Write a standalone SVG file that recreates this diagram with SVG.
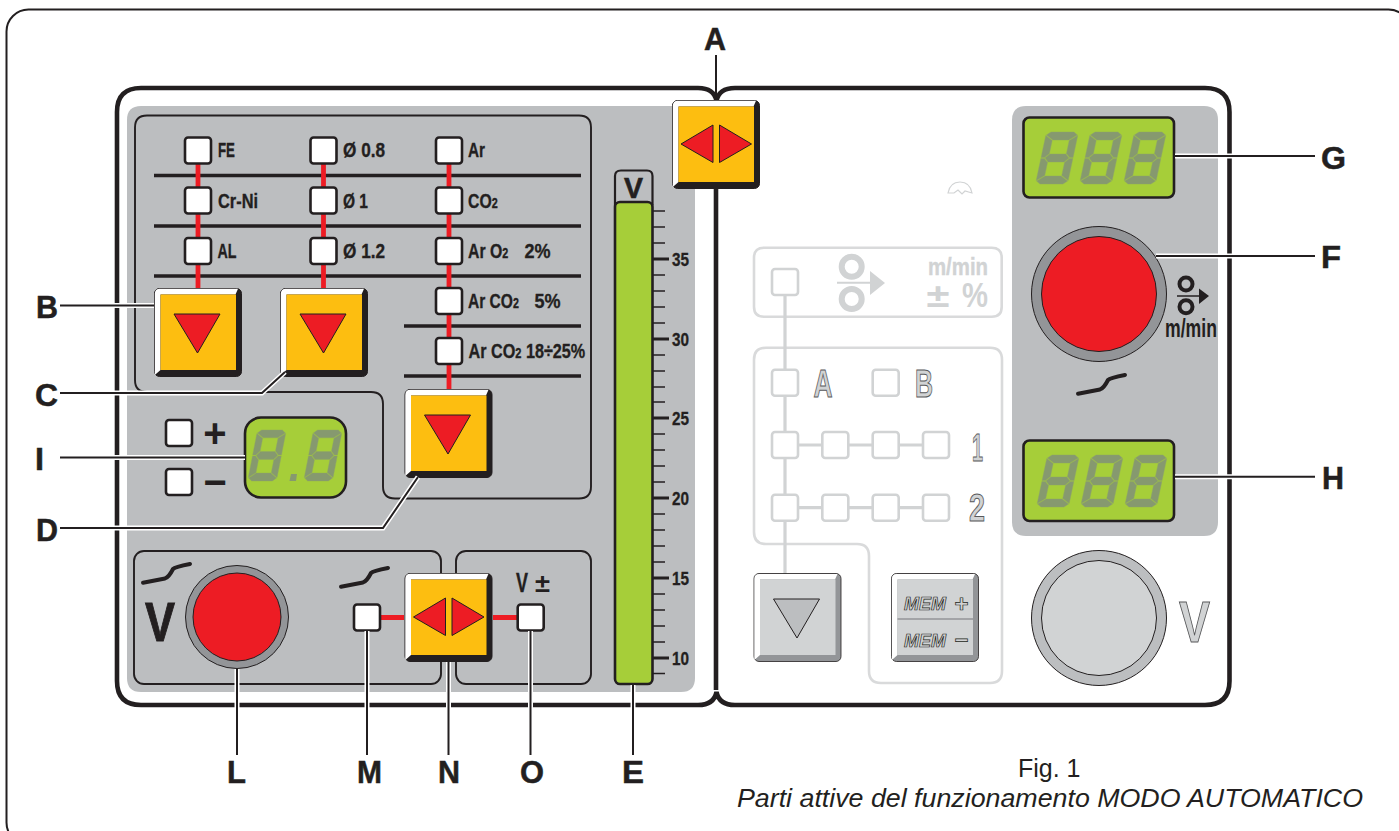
<svg xmlns="http://www.w3.org/2000/svg" xmlns:xlink="http://www.w3.org/1999/xlink" width="1399" height="831" viewBox="0 0 1399 831">
<style>
text{font-family:"Liberation Sans",Arial,sans-serif;font-weight:700;fill:#231F20}
.lab{font-size:32px;stroke:#231F20;stroke-width:.5}
.t{font-size:20.500px;stroke:#231F20;stroke-width:.35}
.n{font-size:18px;stroke:#231F20;stroke-width:.3}
.led{fill:#fff;stroke:#231F20;stroke-width:2.6}
.gled{fill:#fff;stroke:#D1D3D4;stroke-width:2.6}
.red{stroke:#ED1C24;stroke-width:4.8;fill:none}
.rule{stroke:#231F20;stroke-width:3.4;fill:none}
.box{fill:none;stroke:#231F20;stroke-width:1.9}
.gbox{fill:none;stroke:#D9DADB;stroke-width:2.6}
.gl{stroke:#D1D3D4;stroke-width:3.2;fill:none}
.lcd{fill:#A6CE39;stroke:#231F20;stroke-width:2.6}
.seg polygon{fill:#86996F;stroke:#8FA667;stroke-width:.4}
.h{fill:none;stroke:#fff;stroke-width:5}
.l{fill:none;stroke:#231F20;stroke-width:2}
.tri{fill:#ED1C24;stroke:#231F20;stroke-width:1}
.ramp{fill:none;stroke:#231F20;stroke-width:4;stroke-linecap:round;stroke-linejoin:round}
.tick{stroke:#231F20;stroke-width:1.6}
.maj{stroke:#231F20;stroke-width:3}
.cap{font-weight:400}
</style>
<defs>
<g id="led"><rect x="-13" y="-13" width="26" height="26" rx="3" class="led"/></g>
<g id="gled"><rect x="-13" y="-13" width="26" height="26" rx="3" class="gled"/></g>
<g id="btn">
<rect x=".5" y=".5" width="87" height="88" rx="5" fill="#231F20" stroke="#231F20"/>
<path d="M.8 6Q.8 .8 6 .8L84 .8L81.5 6.5L6.5 6.5L6.5 82L.8 87Z" fill="#fff"/>
<rect x="6.5" y="6.5" width="75.5" height="75.5" fill="#FDBE10"/>
</g>
<g id="gbtn">
<rect x=".5" y=".5" width="87" height="88" rx="5" fill="#939598" stroke="#231F20" stroke-width=".8"/>
<path d="M.9 6Q.9 .9 6 .9L84 .9L81.5 6.5L6.5 6.5L6.5 82L.9 87Z" fill="#fff"/>
<rect x="6.5" y="6.5" width="75.5" height="75.5" fill="#D1D3D4"/>
</g>
<g id="tdown"><polygon points="20,26 66,26 43.5,65" class="tri"/></g>
<g id="tboth"><polygon points="9,44 41,25 41,62.5" class="tri"/><polygon points="47.5,25 47.5,62.5 79.5,44" class="tri"/></g>
<g id="digit" class="seg">
<polygon points="4,0 27,0 31,3 23.500,8 7.500,8 0,3"/>
<polygon points="-.5,3.500 7,8.500 7,21.500 3,25.500 -.5,25.500"/>
<polygon points="31.500,3.500 24,8.500 24,21.500 28,25.500 31.500,25.500"/>
<polygon points="3.500,26 7.500,22 23.500,22 27.500,26 23.500,30 7.500,30"/>
<polygon points="-.5,26.500 3,26.500 7,30.500 7,43.500 -.5,48.500"/>
<polygon points="31.500,26.500 28,26.500 24,30.500 24,43.500 31.500,48.500"/>
<polygon points="0,49 7.500,44 23.500,44 31,49 27,52 4,52"/>
</g>
<g id="d3"><use xlink:href="#digit" transform="skewX(-12)"/><use xlink:href="#digit" transform="translate(44 0) skewX(-12)"/><use xlink:href="#digit" transform="translate(88 0) skewX(-12)"/></g>
<path id="rampg" d="M143 582.7L165 578.5Q169 577 173 569Q175 567 190 564" class="ramp"/>
</defs>

<rect id="frame" x="6.5" y="9.5" width="1404" height="835" rx="22" fill="#fff" stroke="#231F20" stroke-width="2"/>

<g id="panels">
<path id="panel-left-bg" d="M141 106H695V678Q695 692 681 692H141Q127 692 127 678V120Q127 106 141 106Z" fill="#BCBEC0"/>
<path id="panel-right-bg" d="M1026 106H1204Q1218 106 1218 120V522Q1218 536 1204 536H1026Q1012 536 1012 522V120Q1012 106 1026 106Z" fill="#BCBEC0"/>
<path id="panel-outline" d="M716 101V690M698 705H141Q117 705 117 681V112Q117 88 141 88H698Q714 88 716.500 101Q719 88 735 88H1205Q1229.500 88 1229.500 112V681Q1229.500 705 1205 705H735Q719 705 716.500 692Q714 705 698 705Z" fill="none" stroke="#231F20" stroke-width="4.600"/>
<path class="box" d="M147 115.500H579Q591 115.500 591 127.500V486.500Q591 498.500 579 498.500H395Q383 498.500 383 486.500V404Q383 392 371 392H147Q135 392 135 380V127.500Q135 115.500 147 115.500Z"/>
<rect class="box" x="134" y="551" width="307" height="133" rx="10"/>
<rect class="box" x="456" y="551" width="135" height="133" rx="10"/>
</g>

<g id="group-rules">
<path class="rule" d="M154 175.500H581M154 226H581M154 276H581M404 326H581M404 376H581"/>
<path class="red" d="M198 150V290M323.500 150V290M449 150V392M367 617.500H404M493 617.500H530"/>
</g>

<g id="material">
<use xlink:href="#led" x="198" y="150.500"/><text class="t" x="218" y="157" textLength="17" lengthAdjust="spacingAndGlyphs">FE</text>
<use xlink:href="#led" x="198" y="200.500"/><text class="t" x="218" y="207.500" textLength="40" lengthAdjust="spacingAndGlyphs">Cr-Ni</text>
<use xlink:href="#led" x="198" y="251"/><text class="t" x="217.500" y="257.500" textLength="19" lengthAdjust="spacingAndGlyphs">AL</text>
</g>
<g id="wire">
<use xlink:href="#led" x="323.500" y="150.500"/><text class="t" x="343" y="157" textLength="42" lengthAdjust="spacingAndGlyphs">Ø 0.8</text>
<use xlink:href="#led" x="323.500" y="200.500"/><text class="t" x="343" y="207.500" textLength="25" lengthAdjust="spacingAndGlyphs">Ø 1</text>
<use xlink:href="#led" x="323.500" y="251"/><text class="t" x="343" y="257.500" textLength="42" lengthAdjust="spacingAndGlyphs">Ø 1.2</text>
</g>
<g id="gas">
<use xlink:href="#led" x="449" y="150.500"/><text class="t" x="468" y="157" textLength="17" lengthAdjust="spacingAndGlyphs">Ar</text>
<use xlink:href="#led" x="449" y="200.500"/><text class="t" transform="translate(468 207.500) scale(.77 1)">CO<tspan font-size="14">2</tspan></text>
<use xlink:href="#led" x="449" y="251"/><text class="t" transform="translate(468 257.500) scale(.77 1)">Ar O<tspan font-size="14">2</tspan></text><text class="t" transform="translate(524.500 257.500) scale(.88 1)">2%</text>
<use xlink:href="#led" x="449" y="301"/><text class="t" transform="translate(468 307.500) scale(.76 1)">Ar CO<tspan font-size="14">2</tspan></text><text class="t" transform="translate(534.500 307.500) scale(.88 1)">5%</text>
<use xlink:href="#led" x="449" y="351"/><text class="t" transform="translate(468.500 357.500) scale(.79 1)">Ar CO<tspan font-size="14">2</tspan> 18÷25%</text>
</g>

<g id="button-b" transform="translate(154 288)"><use xlink:href="#btn"/><use xlink:href="#tdown"/></g>
<g id="button-c" transform="translate(280 288)"><use xlink:href="#btn"/><use xlink:href="#tdown"/></g>
<g id="button-d" transform="translate(404.500 389)"><use xlink:href="#btn"/><use xlink:href="#tdown"/></g>
<g id="button-n" transform="translate(404.500 573)"><use xlink:href="#btn"/><use xlink:href="#tboth"/></g>
<g id="button-a" transform="translate(672 100)"><use xlink:href="#btn"/><use xlink:href="#tboth"/></g>

<g id="display-i">
<rect class="lcd" x="245" y="417.500" width="101" height="80" rx="16"/>
<g transform="translate(258 430) scale(.9 .98)"><use xlink:href="#digit" transform="skewX(-12)"/></g>
<g transform="translate(314 430) scale(.9 .98)"><use xlink:href="#digit" transform="skewX(-12)"/></g>
<polygon points="291,474 297,474 296,481 289.500,481" fill="#86996F"/>
<use xlink:href="#led" x="179" y="433"/><use xlink:href="#led" x="179" y="482"/>
<text x="215" y="447" font-size="40" text-anchor="middle">+</text>
<text x="215" y="496" font-size="40" text-anchor="middle">−</text>
</g>

<g id="knob-l">
<circle cx="237" cy="617" r="51.500" fill="#939598" stroke="#231F20" stroke-width="1"/>
<circle cx="237" cy="617" r="44" fill="#ED1C24" stroke="#231F20" stroke-width="1"/>
<use xlink:href="#rampg"/>
<text x="160" y="640.500" font-size="56" text-anchor="middle" textLength="30" lengthAdjust="spacingAndGlyphs" stroke="#231F20" stroke-width="1">V</text>
</g>
<g id="led-m"><use xlink:href="#rampg" transform="translate(198 4)"/><use xlink:href="#led" x="367" y="617.500"/></g>
<g id="led-o"><use xlink:href="#led" x="530.700" y="617.500"/>
<text x="516" y="592" font-size="27.500" textLength="12" lengthAdjust="spacingAndGlyphs" stroke="#231F20" stroke-width=".4">V</text>
<text x="535" y="592" font-size="26" textLength="15" lengthAdjust="spacingAndGlyphs">±</text></g>

<g id="bar-e">
<path d="M615 205V176Q615 170.500 621 170.500H647Q652.500 170.500 652.500 176V205" fill="#BCBEC0" stroke="#231F20" stroke-width="2.200"/>
<text x="633.500" y="197.500" font-size="30" text-anchor="middle" textLength="19" lengthAdjust="spacingAndGlyphs" stroke="#231F20" stroke-width=".6">V</text>
<rect x="615" y="202" width="37.500" height="482" rx="5" fill="#A6CE39" stroke="#231F20" stroke-width="2.600"/>
<path class="tick" d="M653 211H665M653 227H665M653 243H665M653 275H665M653 291H665M653 307H665M653 323H665M653 355H665M653 371H665M653 387H665M653 402H665M653 434H665M653 450H665M653 466H665M653 482H665M653 514H665M653 530H665M653 546H665M653 562H665M653 594H665M653 610H665M653 626H665M653 642H665M653 673.500H665"/>
<path class="maj" d="M653 259H669M653 339H669M653 418H669M653 498H669M653 578H669M653 658H669"/>
<text class="n" x="672" y="265.500" textLength="17" lengthAdjust="spacingAndGlyphs">35</text>
<text class="n" x="672" y="345.500" textLength="17" lengthAdjust="spacingAndGlyphs">30</text>
<text class="n" x="672" y="424.500" textLength="17" lengthAdjust="spacingAndGlyphs">25</text>
<text class="n" x="672" y="504.500" textLength="17" lengthAdjust="spacingAndGlyphs">20</text>
<text class="n" x="672" y="584.500" textLength="17" lengthAdjust="spacingAndGlyphs">15</text>
<text class="n" x="672" y="664.500" textLength="17" lengthAdjust="spacingAndGlyphs">10</text>
</g>

<g id="ghost-panel">
<path class="gbox" d="M754 257.700Q754 247.700 764 247.700H991.700Q1001.700 247.700 1001.700 257.700V306.700Q1001.700 316.700 991.700 316.700H764Q754 316.700 754 306.700Z"/>
<path class="gbox" d="M766 347.700H990Q1002 347.700 1002 359.700V671Q1002 683 990 683H881Q869 683 869 671V556Q869 544 857 544H766Q754 544 754 532V359.700Q754 347.700 766 347.700Z"/>
<path class="gl" d="M785 290V575M785 445H936M785 507.700H936"/>
<use xlink:href="#gled" x="785" y="282"/><use xlink:href="#gled" x="785" y="382.700"/><use xlink:href="#gled" x="885.700" y="382.700"/>
<use xlink:href="#gled" x="785" y="445"/><use xlink:href="#gled" x="835.300" y="445"/><use xlink:href="#gled" x="885.700" y="445"/><use xlink:href="#gled" x="936" y="445"/>
<use xlink:href="#gled" x="785" y="507.700"/><use xlink:href="#gled" x="835.300" y="507.700"/><use xlink:href="#gled" x="885.700" y="507.700"/><use xlink:href="#gled" x="936" y="507.700"/>
<circle cx="851.700" cy="266.700" r="10" fill="none" stroke="#D1D3D4" stroke-width="6"/>
<circle cx="851.700" cy="299" r="10" fill="none" stroke="#D1D3D4" stroke-width="6"/>
<path d="M837 282.700H872" stroke="#D1D3D4" stroke-width="2"/>
<polygon points="870,271 885,283 870,295" fill="#D1D3D4"/>
<text x="928" y="275" font-size="24" textLength="60" lengthAdjust="spacingAndGlyphs" style="fill:#D1D3D4;stroke:#D1D3D4;stroke-width:.4">m/min</text>
<text x="926.500" y="306.500" font-size="34" textLength="23" lengthAdjust="spacingAndGlyphs" style="fill:#D1D3D4">±</text>
<text x="962" y="306.500" font-size="35" textLength="26" lengthAdjust="spacingAndGlyphs" style="fill:#D1D3D4">%</text>
<text x="813.500" y="397" font-size="39" textLength="19" lengthAdjust="spacingAndGlyphs" style="fill:#D1D3D4;stroke:#58595B;stroke-width:1">A</text>
<text x="915" y="397" font-size="39" textLength="18" lengthAdjust="spacingAndGlyphs" style="fill:#D1D3D4;stroke:#58595B;stroke-width:1">B</text>
<text x="972" y="461" font-size="39" textLength="11" lengthAdjust="spacingAndGlyphs" style="fill:#D1D3D4;stroke:#58595B;stroke-width:1">1</text>
<text x="969" y="521" font-size="39" textLength="16" lengthAdjust="spacingAndGlyphs" style="fill:#D1D3D4;stroke:#58595B;stroke-width:1">2</text>
<path d="M948 193Q950 182 960 182Q970 182 972 193L965 191L962 194L958 190L954 193Z" fill="none" stroke="#D1D3D4" stroke-width="1.200"/>
</g>
<g id="ghost-button" transform="translate(753.500 573)"><use xlink:href="#gbtn"/><polygon points="20,26 66,26 43.500,65" fill="#BCBEC0" stroke="#231F20" stroke-width="1"/></g>
<g id="ghost-mem" transform="translate(891 573)"><use xlink:href="#gbtn"/>
<path d="M6.500 46H82" stroke="#939598" stroke-width="1.500"/>
<text x="13" y="37" font-size="19" font-style="italic" textLength="42" lengthAdjust="spacingAndGlyphs" style="fill:#D1D3D4;stroke:#231F20;stroke-width:.7">MEM</text>
<text x="13" y="74" font-size="19" font-style="italic" textLength="42" lengthAdjust="spacingAndGlyphs" style="fill:#D1D3D4;stroke:#231F20;stroke-width:.7">MEM</text>
<text x="70.500" y="39" font-size="24" text-anchor="middle" style="fill:#D1D3D4;stroke:#231F20;stroke-width:.7">+</text>
<text x="70.500" y="75" font-size="24" text-anchor="middle" style="fill:#D1D3D4;stroke:#231F20;stroke-width:.7">−</text>
</g>

<g id="display-g"><rect class="lcd" x="1023.500" y="117.500" width="150.500" height="80" rx="6"/><use xlink:href="#d3" transform="translate(1047 132)"/></g>
<g id="display-h"><rect class="lcd" x="1023.500" y="440.500" width="150.500" height="80.500" rx="6"/><use xlink:href="#d3" transform="translate(1048 455)"/></g>
<g id="knob-f">
<circle cx="1099" cy="294" r="67.500" fill="#939598" stroke="#231F20" stroke-width="1"/>
<circle cx="1099" cy="294" r="57.500" fill="#ED1C24" stroke="#231F20" stroke-width="1"/>
<circle cx="1186" cy="284" r="6.500" fill="none" stroke="#231F20" stroke-width="4"/>
<circle cx="1186" cy="306.700" r="6.500" fill="none" stroke="#231F20" stroke-width="4"/>
<path d="M1177 296H1201" stroke="#231F20" stroke-width="1.500"/>
<polygon points="1199,288.500 1209,296 1199,304" fill="#231F20"/>
<text x="1165" y="336.500" font-size="25" textLength="52" lengthAdjust="spacingAndGlyphs">m/min</text>
<use xlink:href="#rampg" transform="translate(935 -189)"/>
</g>
<g id="knob-v">
<circle cx="1099" cy="618" r="67.500" fill="#BCBEC0" stroke="#231F20" stroke-width="1"/>
<circle cx="1099" cy="618" r="57.500" fill="#D1D3D4" stroke="#231F20" stroke-width="1"/>
<text x="1194.500" y="642" font-size="58" text-anchor="middle" textLength="31" lengthAdjust="spacingAndGlyphs" style="fill:#D1D3D4;stroke:#58595B;stroke-width:1">V</text>
</g>

<g id="connectors">
<path class="h" d="M60 305.500H154M60 393H262L285 372M60 528H383L418 477M60 457.500H245M237 669V755M367 631V755M448.500 662V755M530.500 631V755M633 685V755M1175 156H1315M1156 256H1315M1175 476.700H1315"/>
<path class="l" d="M60 305.500H154M60 393H262L285 372M60 528H383L418 477M60 457.500H245M237 669V755M367 631V755M448.500 662V755M530.500 631V755M633 685V755M1175 156H1315M1156 256H1315M1175 476.700H1315"/>
<path d="M716 55V100" stroke="#231F20" stroke-width="2" fill="none"/>
</g>

<g id="labels">
<text class="lab" x="704" y="50" textLength="22" lengthAdjust="spacingAndGlyphs">A</text>
<text class="lab" x="36" y="318" textLength="22" lengthAdjust="spacingAndGlyphs">B</text>
<text class="lab" x="35" y="406" textLength="23" lengthAdjust="spacingAndGlyphs">C</text>
<text class="lab" x="36" y="541" textLength="22" lengthAdjust="spacingAndGlyphs">D</text>
<text class="lab" x="35" y="470" textLength="9" lengthAdjust="spacingAndGlyphs">I</text>
<text class="lab" x="227" y="783" textLength="19" lengthAdjust="spacingAndGlyphs">L</text>
<text class="lab" x="357" y="783" textLength="25" lengthAdjust="spacingAndGlyphs">M</text>
<text class="lab" x="438" y="783" textLength="22" lengthAdjust="spacingAndGlyphs">N</text>
<text class="lab" x="520" y="783" textLength="24" lengthAdjust="spacingAndGlyphs">O</text>
<text class="lab" x="622" y="783" textLength="22" lengthAdjust="spacingAndGlyphs">E</text>
<text class="lab" x="1321" y="169" textLength="25" lengthAdjust="spacingAndGlyphs">G</text>
<text class="lab" x="1321" y="268" textLength="20" lengthAdjust="spacingAndGlyphs">F</text>
<text class="lab" x="1322" y="489" textLength="22" lengthAdjust="spacingAndGlyphs">H</text>
</g>

<g id="caption">
<text class="cap" x="1018" y="777" font-size="25">Fig. 1</text>
<text class="cap" x="737" y="807" font-size="26" font-style="italic" textLength="626" lengthAdjust="spacingAndGlyphs">Parti attive del funzionamento MODO AUTOMATICO</text>
</g>
</svg>
